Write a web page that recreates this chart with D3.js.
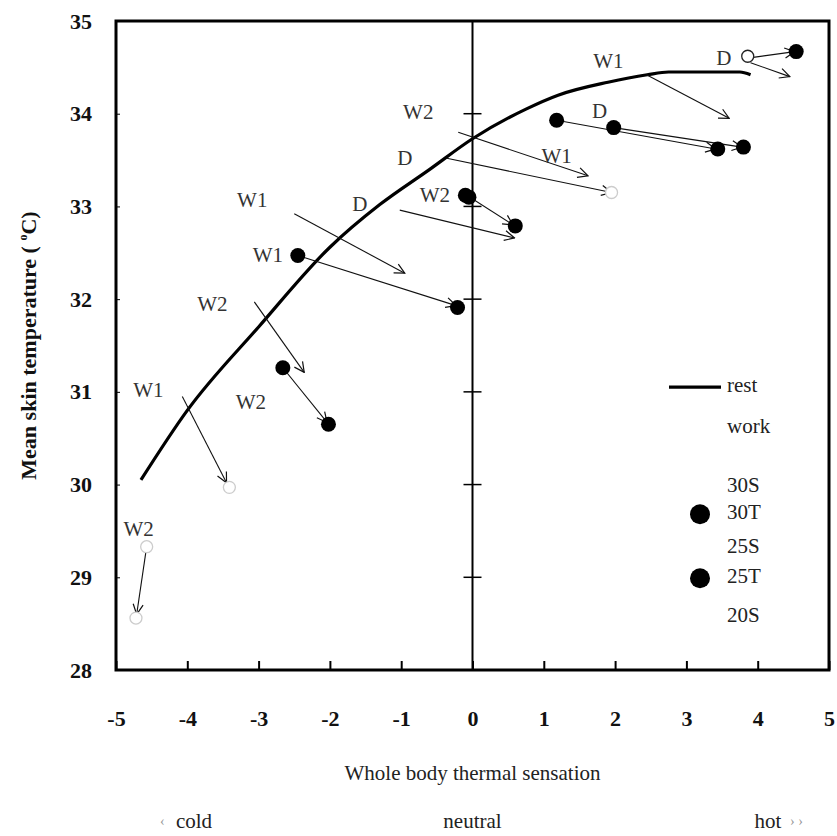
<!DOCTYPE html>
<html>
<head>
<meta charset="utf-8">
<script src="https://cdn.jsdelivr.net/npm/d3@7"></script>
<style>
  body { margin: 0; background: #fff; }
  svg { display: block; }
</style>
</head>
<body>
<div id="chart"></div>
<script>
// rest curve (mean skin temperature vs. thermal sensation)
const restX = [-4.65, -4.0, -3.0, -2.0, -1.3, -0.6, 0, 0.75, 1.2, 1.9, 2.45, 2.75, 3.75, 3.9];
const restY = [30.05, 30.8, 31.7, 32.56, 33.02, 33.4, 33.73, 34.05, 34.2, 34.34, 34.42, 34.45, 34.45, 34.42];

// work arrows: start -> end, with label ('' = no label)
const arrowLabel = ['W1', 'D', 'D', 'W2', 'D', 'W1', 'D', 'W2', 'W1', 'W2', 'W2', 'W1', 'W2', 'W1', ''];
const arrowX1 = [2.44, 3.86, 1.98, -0.2, -0.36, -2.5, -1.02, -0.08, -2.45, -3.06, -2.66, -4.07, -4.57, 1.18, 3.9];
const arrowY1 = [34.42, 34.6, 33.85, 33.8, 33.52, 32.92, 32.96, 33.12, 32.47, 31.97, 31.26, 30.95, 29.33, 33.93, 34.55];
const arrowX2 = [3.6, 4.52, 3.78, 1.62, 1.95, -0.95, 0.59, 0.57, -0.23, -2.36, -2.04, -3.45, -4.71, 3.41, 4.45];
const arrowY2 = [33.95, 34.67, 33.64, 33.33, 33.15, 32.28, 32.66, 32.8, 31.93, 31.21, 30.67, 30.02, 28.6, 33.62, 34.4];

// filled points (30T / 25T)
const filledX = [4.54, 1.98, 3.8, -0.1, -0.05, 0.6, 1.18, 3.44, -2.45, -0.21, -2.66, -2.02];
const filledY = [34.67, 33.85, 33.64, 33.12, 33.1, 32.79, 33.93, 33.62, 32.47, 31.91, 31.26, 30.65];

// open points (faint in the scan)
const openX = [3.86, 1.95, -3.41, -4.57, -4.72];
const openY = [34.62, 33.15, 29.97, 29.33, 28.56];

const legendLabels = ['rest', 'work', '30S', '30T', '25S', '25T', '20S'];
const xTicks = [-5, -4, -3, -2, -1, 0, 1, 2, 3, 4, 5];
const yTicks = [28, 29, 30, 31, 32, 33, 34, 35];

const W = 837, H = 836;
const m = { left: 116, right: 8, top: 21, bottom: 166 };
const iw = W - m.left - m.right, ih = H - m.top - m.bottom;
const serif = '"Liberation Serif", "DejaVu Serif", serif';

const svg = d3.select('#chart').append('svg')
  .attr('width', W).attr('height', H)
  .style('font-family', serif);

const x = d3.scaleLinear().domain([-5, 5]).range([0, iw]);
const y = d3.scaleLinear().domain([28, 35]).range([ih, 0]);

svg.append('defs').append('marker')
  .attr('id', 'head')
  .attr('viewBox', '0 0 12 12')
  .attr('refX', 11).attr('refY', 6)
  .attr('markerWidth', 12).attr('markerHeight', 12)
  .attr('markerUnits', 'userSpaceOnUse')
  .attr('orient', 'auto')
  .append('path')
  .attr('d', 'M1,1 L11,6 L1,11')
  .attr('fill', 'none').attr('stroke', '#111').attr('stroke-width', 1.2);

const g = svg.append('g').attr('transform', `translate(${m.left},${m.top})`);

// bottom axis: inward ticks
const xAxis = g.append('g')
  .attr('transform', `translate(0,${ih})`)
  .call(d3.axisBottom(x).tickValues(xTicks).tickSize(-9).tickPadding(40).tickFormat(d3.format('d')))
  .attr('font-family', serif);
xAxis.select('.domain').remove();
xAxis.selectAll('line').attr('stroke', '#000').attr('stroke-width', 2);
xAxis.selectAll('text').attr('font-size', 22).attr('font-weight', 'bold').attr('fill', '#111')
  .text(d => d < 0 ? '-' + Math.abs(d) : d);

// left axis labels
const yAxis = g.append('g')
  .call(d3.axisLeft(y).tickValues(yTicks).tickSize(-4).tickPadding(24).tickFormat(d3.format('d')))
  .attr('font-family', serif);
yAxis.select('.domain').remove();
yAxis.selectAll('line').attr('stroke', '#000').attr('stroke-width', 1);
yAxis.selectAll('text').attr('font-size', 22).attr('font-weight', 'bold').attr('fill', '#111');

// vertical line at x = 0 with crossing ticks
g.append('line')
  .attr('x1', x(0)).attr('x2', x(0)).attr('y1', 0).attr('y2', ih)
  .attr('stroke', '#000').attr('stroke-width', 2);
g.append('g').selectAll('line')
  .data(yTicks.slice(1, -1))
  .join('line')
  .attr('x1', x(0) - 9).attr('x2', x(0) + 9)
  .attr('y1', d => y(d)).attr('y2', d => y(d))
  .attr('stroke', '#000').attr('stroke-width', 1.5);

// frame
g.append('rect')
  .attr('width', iw).attr('height', ih)
  .attr('fill', 'none').attr('stroke', '#000').attr('stroke-width', 3);

// rest curve
const restPts = restX.map((v, i) => [v, restY[i]]);
g.append('path')
  .datum(restPts)
  .attr('d', d3.line().x(d => x(d[0])).y(d => y(d[1])).curve(d3.curveMonotoneX))
  .attr('fill', 'none').attr('stroke', '#000').attr('stroke-width', 3.2);

// work arrows
g.append('g').selectAll('line')
  .data(arrowX1.map((v, i) => i))
  .join('line')
  .attr('x1', i => x(arrowX1[i])).attr('y1', i => y(arrowY1[i]))
  .attr('x2', i => x(arrowX2[i])).attr('y2', i => y(arrowY2[i]))
  .attr('stroke', '#111').attr('stroke-width', 1.1)
  .attr('marker-end', 'url(#head)');

// open points
g.append('g').selectAll('circle')
  .data(openX.map((v, i) => i))
  .join('circle')
  .attr('cx', i => x(openX[i])).attr('cy', i => y(openY[i]))
  .attr('r', 6)
  .attr('fill', '#fff').attr('stroke', (i) => i === 0 ? '#222' : '#ccc').attr('stroke-width', 1.3);

// filled points
g.append('g').selectAll('circle')
  .data(filledX.map((v, i) => i))
  .join('circle')
  .attr('cx', i => x(filledX[i])).attr('cy', i => y(filledY[i]))
  .attr('r', 7.5).attr('fill', '#000');

// arrow labels, placed next to the start point
const labelDx = [-38, -24, -14, -40, -42, -42, -40, -32, -30, -42, -32, -34, -8, 0, 0];
const labelDy = [-12, 2, -14, -18, 2, -12, -4, 2, 2, 4, 36, -4, -16, 38, 0];
g.append('g').selectAll('text')
  .data(arrowLabel.map((v, i) => i))
  .join('text')
  .attr('x', i => x(arrowX1[i]) + labelDx[i])
  .attr('y', i => y(arrowY1[i]) + labelDy[i])
  .attr('font-size', 21).attr('fill', '#333')
  .attr('text-anchor', 'middle').attr('dominant-baseline', 'middle')
  .text(i => arrowLabel[i]);

// legend
const lg = g.append('g').attr('transform', `translate(${iw - 102},${y(31.05)})`);
lg.selectAll('text')
  .data(legendLabels)
  .join('text')
  .attr('x', 0)
  .attr('y', (d, i) => [0, 41, 100, 127, 161, 191, 230][i])
  .attr('dominant-baseline', 'middle')
  .attr('font-size', 21).attr('fill', '#222')
  .text(d => d);
lg.append('line').attr('x1', -58).attr('x2', -6).attr('y1', 0).attr('y2', 0)
  .attr('stroke', '#000').attr('stroke-width', 3.2);
lg.selectAll('circle')
  .data([127, 191])
  .join('circle')
  .attr('cx', -27).attr('cy', d => d).attr('r', 10).attr('fill', '#000');

// x title and sensation scale
svg.append('text')
  .attr('x', m.left + x(0)).attr('y', 780)
  .attr('text-anchor', 'middle').attr('font-size', 21).attr('fill', '#222')
  .text('Whole body thermal sensation');
const scaleWords = ['cold', 'neutral', 'hot'];
const scaleX = [194, m.left + x(0), 768];
svg.selectAll('.scale')
  .data(scaleWords)
  .join('text')
  .attr('x', (d, i) => scaleX[i]).attr('y', 828)
  .attr('text-anchor', 'middle').attr('font-size', 21).attr('fill', '#222')
  .text(d => d);
svg.append('text').attr('x', 160).attr('y', 826).attr('font-size', 14).attr('fill', '#999').text('‹');
svg.append('text').attr('x', 790).attr('y', 826).attr('font-size', 14).attr('fill', '#999').text('› ›');

// y title
const yt = svg.append('text')
  .attr('transform', `translate(36,${m.top + ih / 2}) rotate(-90)`)
  .attr('text-anchor', 'middle').attr('font-size', 22).attr('font-weight', 'bold').attr('fill', '#111');
yt.append('tspan').text('Mean skin temperature ( ');
yt.append('tspan').attr('dy', -9).attr('font-size', 12).text('o');
yt.append('tspan').attr('dy', 9).text('C)');
</script>
</body>
</html>
